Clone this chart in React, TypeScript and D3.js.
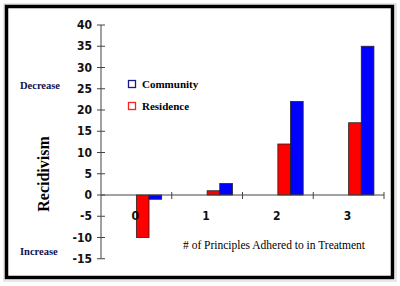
import React, { useEffect, useRef } from "react";
import * as d3 from "d3";

const categories = ["0", "1", "2", "3"];
const seriesNames = ["Residence", "Community"];
const residence = [-10, 1, 12, 17];
const community = [-1, 2.7, 22, 35];
const yTicks = [-15, -10, -5, 0, 5, 10, 15, 20, 25, 30, 35, 40];
const legendItems = ["Community", "Residence"];

const colors: Record<string, string> = { Residence: "#ff0000", Community: "#0000ff" };
const legendStroke: Record<string, string> = { Residence: "#ff2020", Community: "#1a1a8c" };

const SERIF = "Liberation Serif, DejaVu Serif, Times New Roman, serif";
const NARROW = "Liberation Sans Narrow, DejaVu Sans Condensed, Liberation Sans, sans-serif";

const App = () => {
  const ref = useRef<SVGSVGElement>(null);

  useEffect(() => {
    const svg = d3.select(ref.current);
    svg.selectAll("*").remove();

    // outer frame
    svg.append("rect").attr("x", 4).attr("y", 4).attr("width", 392).attr("height", 277)
      .attr("fill", "none").attr("stroke", "#cfcfcf").attr("stroke-width", 1);
    svg.append("rect").attr("x", 6.5).attr("y", 6.5).attr("width", 386).attr("height", 271)
      .attr("fill", "#fff").attr("stroke", "#000").attr("stroke-width", 3.5);

    const x = d3.scaleBand().domain(categories).range([101, 384]).padding(0);
    const y = d3.scaleLinear().domain([-15, 40]).range([258.75, 25]);
    const bw = x.bandwidth();
    const inner = d3.scaleBand().domain(seriesNames).range([bw / 2, bw / 2 + 25.3]);

    const values: Record<string, number[]> = { Residence: residence, Community: community };

    const g = svg.append("g");
    seriesNames.forEach((s) => {
      g.selectAll(null)
        .data(values[s])
        .enter()
        .append("rect")
        .attr("x", (_d, i) => (x(categories[i]) as number) + (inner(s) as number))
        .attr("y", (d) => y(Math.max(0, d)))
        .attr("width", inner.bandwidth())
        .attr("height", (d) => Math.abs(y(d) - y(0)))
        .attr("fill", colors[s])
        .attr("stroke", "#222")
        .attr("stroke-width", 0.8);
    });

    // y axis
    const axisColor = "#444";
    svg.append("line").attr("x1", 101).attr("x2", 101).attr("y1", y(40)).attr("y2", y(-15))
      .attr("stroke", axisColor);
    const yt = svg.append("g");
    yTicks.forEach((t) => {
      yt.append("line").attr("x1", 97).attr("x2", 105).attr("y1", y(t)).attr("y2", y(t))
        .attr("stroke", axisColor);
      yt.append("text").attr("x", 92).attr("y", y(t)).attr("dy", "0.35em")
        .attr("text-anchor", "end")
        .attr("font-family", NARROW)
        .attr("font-weight", "bold").attr("font-size", 12).attr("fill", "#111")
        .text(t);
    });

    // x axis
    svg.append("line").attr("x1", 101).attr("x2", 384).attr("y1", y(0)).attr("y2", y(0))
      .attr("stroke", axisColor);
    categories.forEach((c) => {
      const e = (x(c) as number) + bw;
      svg.append("line").attr("x1", e).attr("x2", e).attr("y1", y(0) - 3).attr("y2", y(0) + 4)
        .attr("stroke", axisColor);
      svg.append("text").attr("x", (x(c) as number) + bw / 2 - 1).attr("y", 220)
        .attr("text-anchor", "middle")
        .attr("font-family", NARROW)
        .attr("font-weight", "bold").attr("font-size", 12).attr("fill", "#111")
        .text(c);
    });

    // axis titles
    svg.append("text").attr("transform", "translate(49,174) rotate(-90)")
      .attr("text-anchor", "middle")
      .attr("font-family", SERIF).attr("font-weight", "bold")
      .attr("font-size", 16).attr("fill", "#000").text("Recidivism");
    svg.append("text").attr("x", 183).attr("y", 249)
      .attr("font-family", SERIF).attr("font-size", 11.5)
      .attr("fill", "#000").text("# of Principles Adhered to in Treatment");
    svg.append("text").attr("x", 20).attr("y", 89)
      .attr("font-family", SERIF).attr("font-weight", "bold")
      .attr("font-size", 10.5).attr("fill", "#101050").text("Decrease");
    svg.append("text").attr("x", 20).attr("y", 255)
      .attr("font-family", SERIF).attr("font-weight", "bold")
      .attr("font-size", 10.5).attr("fill", "#101050").text("Increase");

    // legend
    legendItems.forEach((s, i) => {
      const ly = 84 + i * 22;
      svg.append("rect").attr("x", 128.5).attr("y", ly - 3.5).attr("width", 7).attr("height", 7)
        .attr("fill", "#fff").attr("stroke", legendStroke[s]).attr("stroke-width", 1.3);
      svg.append("text").attr("x", 142).attr("y", ly).attr("dy", "0.35em")
        .attr("font-family", SERIF).attr("font-weight", "bold")
        .attr("font-size", 11).attr("fill", "#000").text(s);
    });
  }, []);

  return (
    <svg
      ref={ref}
      width={400}
      height={286}
      style={{ position: "absolute", left: 0, top: 0, background: "#fff" }}
    />
  );
};

export default App;
